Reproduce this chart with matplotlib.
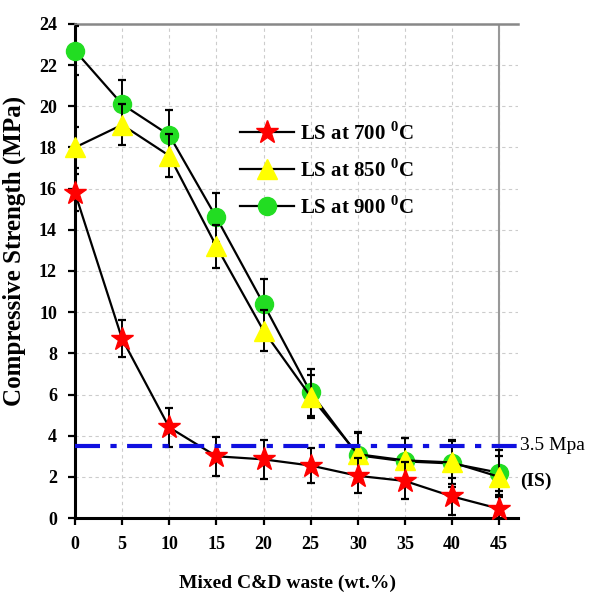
import matplotlib
matplotlib.use("Agg")
import matplotlib.pyplot as plt

plt.rcParams['font.family'] = ['Liberation Serif', 'DejaVu Serif']
plt.rcParams['mathtext.fontset'] = 'custom'
plt.rcParams['mathtext.rm'] = 'Liberation Serif:bold'
plt.rcParams['mathtext.bf'] = 'Liberation Serif:bold'

waste = [0, 5, 10, 15, 20, 25, 30, 35, 40, 45]
ls700 = [15.8, 8.7, 4.4, 3.0, 2.85, 2.55, 2.05, 1.8, 1.05, 0.45]
ls850 = [18.0, 19.1, 17.6, 13.2, 9.1, 5.9, 3.1, 2.8, 2.7, 2.0]
ls900 = [22.7, 20.1, 18.6, 14.6, 10.4, 6.1, 3.05, 2.75, 2.65, 2.2]
err700 = [0.9, 0.9, 0.95, 0.95, 0.95, 0.85, 0.85, 0.9, 0.9, 0.85]
err850 = [1.0, 1.0, 1.05, 1.05, 1.0, 1.05, 1.05, 1.1, 1.05, 1.0]
err900 = [1.2, 1.2, 1.2, 1.2, 1.2, 1.15, 1.15, 1.15, 1.15, 1.1]
labels = ['LS at 700 $^{0}$C', 'LS at 850 $^{0}$C', 'LS at 900 $^{0}$C']
is_limit = 3.5

fig = plt.figure(figsize=(5.89, 5.99), dpi=100)
ax = fig.add_axes([0.1273, 0.1352, 0.7522, 0.8248])

common = dict(color='black', lw=1.6, ecolor='black', elinewidth=1.4,
              capsize=3, capthick=1.6)
h1 = ax.errorbar(waste, ls700, yerr=err700, marker='*', ms=17, mfc='red',
                 mec='red', zorder=5, **common)
h2 = ax.errorbar(waste, ls850, yerr=err850, marker='^', ms=14, mfc='yellow',
                 mec='yellow', zorder=4, **common)
h3 = ax.errorbar(waste, ls900, yerr=err900, marker='o', ms=13, mfc='#22dd22',
                 mec='#22dd22', zorder=3, **common)
for h in (h1, h2, h3):
    h[0].set_clip_on(False)

ax.axhline(is_limit, color='#1010e0', lw=3, ls=(0, (6, 2.5, 1.5, 2.5)), zorder=6)
ax.axvline(45, color='#999999', lw=1.5, zorder=1)

ax.set_xlim(0, 47)
ax.set_ylim(0, 24)
ax.set_xticks(range(0, 50, 5))
ax.set_yticks(range(0, 26, 2))
ax.grid(True, color='#cccccc', ls=(0, (3, 3)), lw=0.8)
ax.set_axisbelow(True)

for s in ['left', 'bottom']:
    ax.spines[s].set_linewidth(2.2)
    ax.spines[s].set_color('black')
ax.spines['top'].set_color('#888888')
ax.spines['top'].set_linewidth(1.8)
ax.spines['right'].set_visible(False)

ax.tick_params(axis='both', direction='out', length=5, width=1.6,
               labelsize=13, pad=8)
for lab in ax.get_xticklabels() + ax.get_yticklabels():
    lab.set_fontweight('bold')

ax.set_xlabel('Mixed C&D waste (wt.%)', fontsize=14, fontweight='bold')
ax.xaxis.set_label_coords(0.48, -0.115)
ax.set_ylabel('Compressive Strength (MPa)', fontsize=18, fontweight='bold')
ax.yaxis.set_label_coords(-0.11, 0.54)

ax.text(1.005, is_limit / 24, '3.5 Mpa', transform=ax.transAxes,
        fontsize=14, va='center', ha='left')
ax.text(1.005, 1.8 / 24, '(IS)', transform=ax.transAxes,
        fontsize=14, fontweight='bold', va='center', ha='left')

leg = ax.legend([h1[0], h2[0], h3[0]], labels, loc='upper left',
                bbox_to_anchor=(0.33, 0.84), frameon=False,
                prop={'family': 'Liberation Serif', 'weight': 'bold', 'size': 15},
                handlelength=2.6, handletextpad=0.3, labelspacing=0.7)

fig.savefig('out.png', dpi=100)
